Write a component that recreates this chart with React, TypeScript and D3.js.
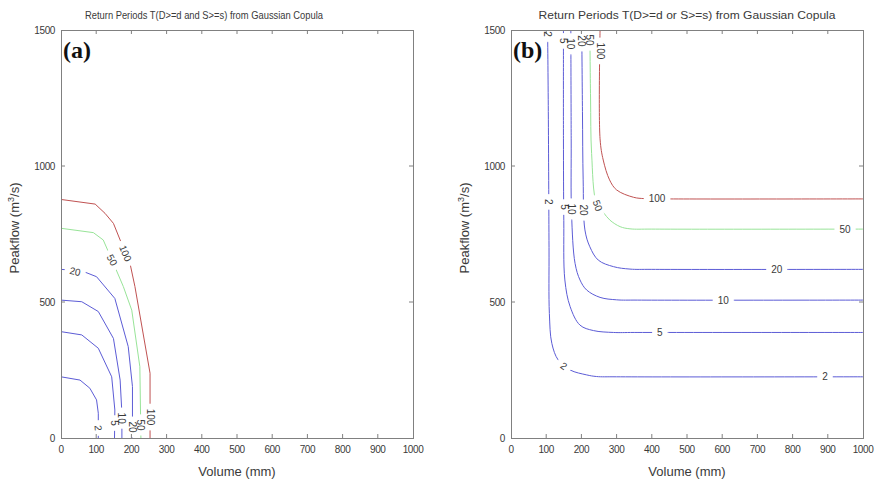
import React from 'react';
import * as d3 from 'd3';

// ---------- data ----------
const xTicks = [0, 100, 200, 300, 400, 500, 600, 700, 800, 900, 1000];
const yTicks = [0, 500, 1000, 1500];
const contourLevels = [2, 5, 10, 20, 50, 100];
const levelColors = ['#5c5cd6', '#5c5cd6', '#5c5cd6', '#5c5cd6', '#98e498', '#c05252'];

// Panel (a): T(D>=d and S>=s)  [volume, peakflow]
const andT2 = [[0, 225], [54, 213], [82, 183], [101, 140], [106, 91], [106, 0]];
const andT5 = [[0, 391], [59, 379], [106, 330], [144, 225], [153, 103], [152, 0]];
const andT10 = [[0, 507], [59, 501], [106, 465], [149, 366], [168, 213], [173, 91], [173, 0]];
const andT20 = [[0, 620], [60, 614], [101, 593], [153, 513], [191, 336], [203, 189], [203, 0]];
const andT50 = [[0, 771], [92, 755], [120, 728], [145, 654], [177, 557], [201, 470], [224, 262], [227, 0]];
const andT100 = [[0, 877], [97, 860], [125, 826], [149, 789], [168, 728], [196, 642], [210, 557], [253, 238], [253, 0]];

// Panel (b): T(D>=d or S>=s)
const orT2 = [[104, 1500], [106, 1200], [108, 700], [109, 458], [116, 348], [134, 287], [168, 250], [215, 232], [243, 226], [300, 225], [1000, 225]];
const orT5 = [[149, 1500], [149, 1100], [150, 800], [153, 581], [168, 483], [196, 415], [234, 395], [291, 388], [350, 388], [1000, 388]];
const orT10 = [[170, 1500], [171, 1100], [172, 826], [182, 642], [196, 581], [215, 544], [253, 517], [300, 508], [360, 507], [1000, 507]];
const orT20 = [[201, 1500], [203, 1200], [205, 949], [210, 765], [224, 703], [248, 654], [291, 630], [338, 621], [400, 620], [1000, 620]];
const orT50 = [[224, 1500], [226, 1250], [229, 1046], [243, 862], [262, 830], [281, 801], [310, 777], [338, 769], [400, 768], [1000, 768]];
const orT100 = [[253, 1500], [253, 1100], [262, 1022], [280, 949], [300, 912], [348, 885], [380, 880], [440, 879], [1000, 879]];

const andLines = [andT2, andT5, andT10, andT20, andT50, andT100];
const orLines = [orT2, orT5, orT10, orT20, orT50, orT100];

// contour labels: [level, volume, peakflow, angle]
const andLabels = [
  [100, 183, 679, 67], [50, 145, 654, 62], [20, 40, 612, 12],
  [2, 106, 37, 85], [5, 152, 55, 90], [10, 173, 73, 90],
  [20, 203, 40, 90], [50, 227, 48, 90], [100, 253, 77, 90],
];
const orLabels = [
  [2, 104, 1485, 90], [5, 149, 1460, 90], [10, 170, 1449, 90],
  [20, 201, 1460, 90], [50, 224, 1463, 90], [100, 253, 1423, 90],
  [2, 107, 868, 90], [5, 151, 849, 90], [10, 172, 842, 90],
  [20, 207, 838, 90], [50, 246, 855, 70], [2, 150, 265, 35],
  [100, 415, 879, 0], [50, 949, 768, 0], [20, 755, 620, 0],
  [10, 603, 507, 0], [5, 423, 388, 0], [2, 892, 225, 0],
];

// ---------- layout ----------
const W = 878, H = 482;
const TOP = 30, BOTTOM = 438, PW = 352;
const FONT = 'Liberation Sans, Arial, sans-serif';
const TXT = '#3a3a3a';
const FRAME = '#808080';

function Panel({ x0, title, titleX, titleW, tag, lines, labels, smooth }) {
  const x = d3.scaleLinear().domain([0, 1000]).range([x0, x0 + PW]);
  const y = d3.scaleLinear().domain([0, 1500]).range([BOTTOM, TOP]);
  const line = d3.line().x((d) => x(d[0])).y((d) => y(d[1]))
    .curve(smooth ? d3.curveCatmullRom.alpha(0.5) : d3.curveLinear);
  return (
    <g>
      <text x={titleX} y={19} fontFamily={FONT} fontSize={11} fill={TXT} textAnchor="middle"
        textLength={titleW} lengthAdjust="spacingAndGlyphs">{title}</text>
      {lines.map((pts, i) => (
        <path key={i} d={line(pts)} fill="none" stroke={levelColors[i]} strokeWidth={1} />
      ))}
      {labels.map((l, i) => {
        const s = String(l[0]);
        const tw = s.length * 5.56;
        return (
          <g key={i} transform={`translate(${x(l[1])},${y(l[2])}) rotate(${l[3]})`}>
            <rect x={-tw / 2 - 5} y={-3.5} width={tw + 10} height={7} fill="#fff" />
          </g>
        );
      })}
      <rect x={x0 + 0.5} y={TOP + 0.5} width={PW} height={BOTTOM - TOP} fill="none" stroke={FRAME} strokeWidth={1} />
      {xTicks.slice(1, -1).map((t) => (
        <g key={t}>
          <line x1={x(t)} x2={x(t)} y1={BOTTOM} y2={BOTTOM - 4} stroke={FRAME} />
          <line x1={x(t)} x2={x(t)} y1={TOP} y2={TOP + 4} stroke={FRAME} />
        </g>
      ))}
      {yTicks.slice(1, -1).map((t) => (
        <g key={t}>
          <line x1={x0} x2={x0 + 4} y1={y(t)} y2={y(t)} stroke={FRAME} />
          <line x1={x0 + PW} x2={x0 + PW - 4} y1={y(t)} y2={y(t)} stroke={FRAME} />
        </g>
      ))}
      {xTicks.map((t) => (
        <text key={t} x={x(t)} y={BOTTOM + 15} fontFamily={FONT} fontSize={10} letterSpacing={-0.4}
          fill={TXT} textAnchor="middle">{t}</text>
      ))}
      {yTicks.map((t) => (
        <text key={t} x={x0 - 6} y={y(t)} fontFamily={FONT} fontSize={10} letterSpacing={-0.4}
          fill={TXT} textAnchor="end" dominantBaseline="central">{t}</text>
      ))}
      {labels.map((l, i) => (
        <text key={i} transform={`translate(${x(l[1])},${y(l[2])}) rotate(${l[3]})`}
          fontFamily={FONT} fontSize={10} fill={TXT} textAnchor="middle" dominantBaseline="central">{String(l[0])}</text>
      ))}
      <text x={x0 + PW / 2} y={476} fontFamily={FONT} fontSize={13} fill={TXT} textAnchor="middle">Volume (mm)</text>
      <text transform={`translate(${x0 - 42},${228}) rotate(-90)`} fontFamily={FONT} fontSize={13} fill={TXT} textAnchor="middle">
        Peakflow (m<tspan dy={-5} fontSize={9}>3</tspan><tspan dy={5}>/s)</tspan>
      </text>
      <text x={x0 + 2} y={58} fontFamily="Liberation Serif, Times New Roman, serif" fontWeight="bold" fontSize={24} fill="#111">{tag}</text>
    </g>
  );
}

export default function App() {
  return (
    <svg width={W} height={H} style={{ position: 'absolute', left: 0, top: 0, background: '#fff' }}>
      <rect width={W} height={H} fill="#fff" />
      <Panel x0={61} title="Return Periods T(D>=d and S>=s) from Gaussian Copula" titleX={204} titleW={238}
        tag="(a)" lines={andLines} labels={andLabels} smooth={false} />
      <Panel x0={511} title="Return Periods T(D>=d or S>=s) from Gaussian Copula" titleX={687} titleW={297}
        tag="(b)" lines={orLines} labels={orLabels} smooth={true} />
    </svg>
  );
}
